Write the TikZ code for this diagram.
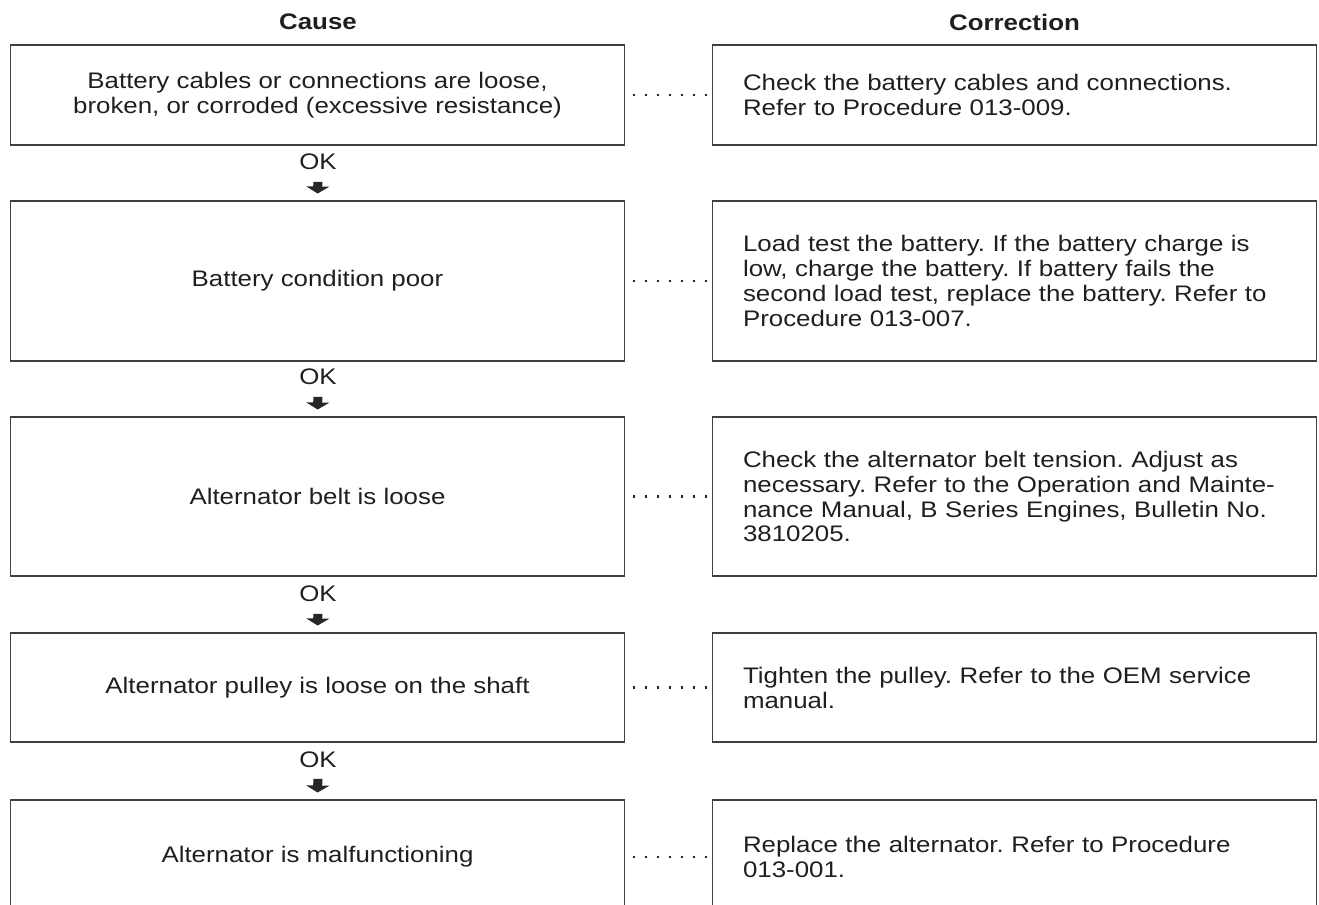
\documentclass[tikz,border=0pt]{standalone}
\usepackage{fontspec}
\setmainfont[FakeStretch=1.15]{Liberation Sans}
\usetikzlibrary{arrows.meta,positioning}
\frenchspacing

\begin{document}
\begin{tikzpicture}[x=0.02cm,y=-0.02cm,
    txt/.style={font=\fontsize{12.8}{14.2}\selectfont, text=black!88},
    causebox/.style={txt, draw=black!75, line width=0.6pt, minimum width=12.3cm, align=center},
    fixbox/.style={txt, draw=black!75, line width=0.6pt, minimum width=12.1cm, inner xsep=0.62cm, text width=10.86cm, align=left},
    header/.style={txt, font=\fontsize{12.8}{14.2}\selectfont\bfseries},
    oklabel/.style={txt, inner sep=0pt, text depth=0pt, anchor=base},
    okarrow/.style={line width=0.18cm, black!85, shorten <=0.23cm, shorten >=0.14cm, -{Triangle[width=0.46cm, length=0.14cm]}},
    dots/.style={line width=1.4pt, black!85, dash pattern=on 1.4pt off 5.4pt, shorten <=0.15cm, shorten >=0.1cm}]
    \useasboundingbox (0,0) rectangle (1319,905);
    \clip (0,0) rectangle (1319,905);

    % Column headers
    \node[header] (causehead) at (318,22) {Cause};
    \node[header] (fixhead) at (1014.5,22) {Correction};

    % Causes
    \node[causebox, minimum height=2cm] (c1) at (317.5,95) {Battery cables or connections are loose,\\broken, or corroded (excessive resistance)};
    \node[causebox, minimum height=3.2cm] (c2) at (317.5,281) {Battery condition poor};
    \node[causebox, minimum height=3.18cm] (c3) at (317.5,496.5) {Alternator belt is loose};
    \node[causebox, minimum height=2.18cm] (c4) at (317.5,687.5) {Alternator pulley is loose on the shaft};
    \node[causebox, minimum height=2.28cm] (c5) at (317.5,857) {Alternator is malfunctioning};

    % Corrections
    \node[fixbox, minimum height=2cm] (r1) at (1014.5,95) {Check the battery cables and connections.\\Refer to Procedure 013-009.};
    \node[fixbox, minimum height=3.2cm] (r2) at (1014.5,281) {Load test the battery. If the battery charge is\\low, charge the battery. If battery fails the\\second load test, replace the battery. Refer to\\Procedure 013-007.};
    \node[fixbox, minimum height=3.18cm] (r3) at (1014.5,496.5) {Check the alternator belt tension. Adjust as\\necessary. Refer to the Operation and Mainte-\\nance Manual, B Series Engines, Bulletin No.\\3810205.};
    \node[fixbox, minimum height=2.18cm] (r4) at (1014.5,687.5) {Tighten the pulley. Refer to the OEM service\\manual.};
    \node[fixbox, minimum height=2.28cm] (r5) at (1014.5,857) {Replace the alternator. Refer to Procedure\\013-001.};

    % OK labels
    \node[oklabel] (ok1) at (318,170) {OK};
    \node[oklabel] (ok2) at (318,385) {OK};
    \node[oklabel] (ok3) at (318,602) {OK};
    \node[oklabel] (ok4) at (318,767) {OK};

    % Arrows
    \draw[okarrow] (ok1.south) -- (c2.north);
    \draw[okarrow] (ok2.south) -- (c3.north);
    \draw[okarrow] (ok3.south) -- (c4.north);
    \draw[okarrow] (ok4.south) -- (c5.north);

    % Dotted leaders
    \foreach \i in {1,...,5}
        \draw[dots] (c\i.east) -- (r\i.west);
\end{tikzpicture}
\end{document}
